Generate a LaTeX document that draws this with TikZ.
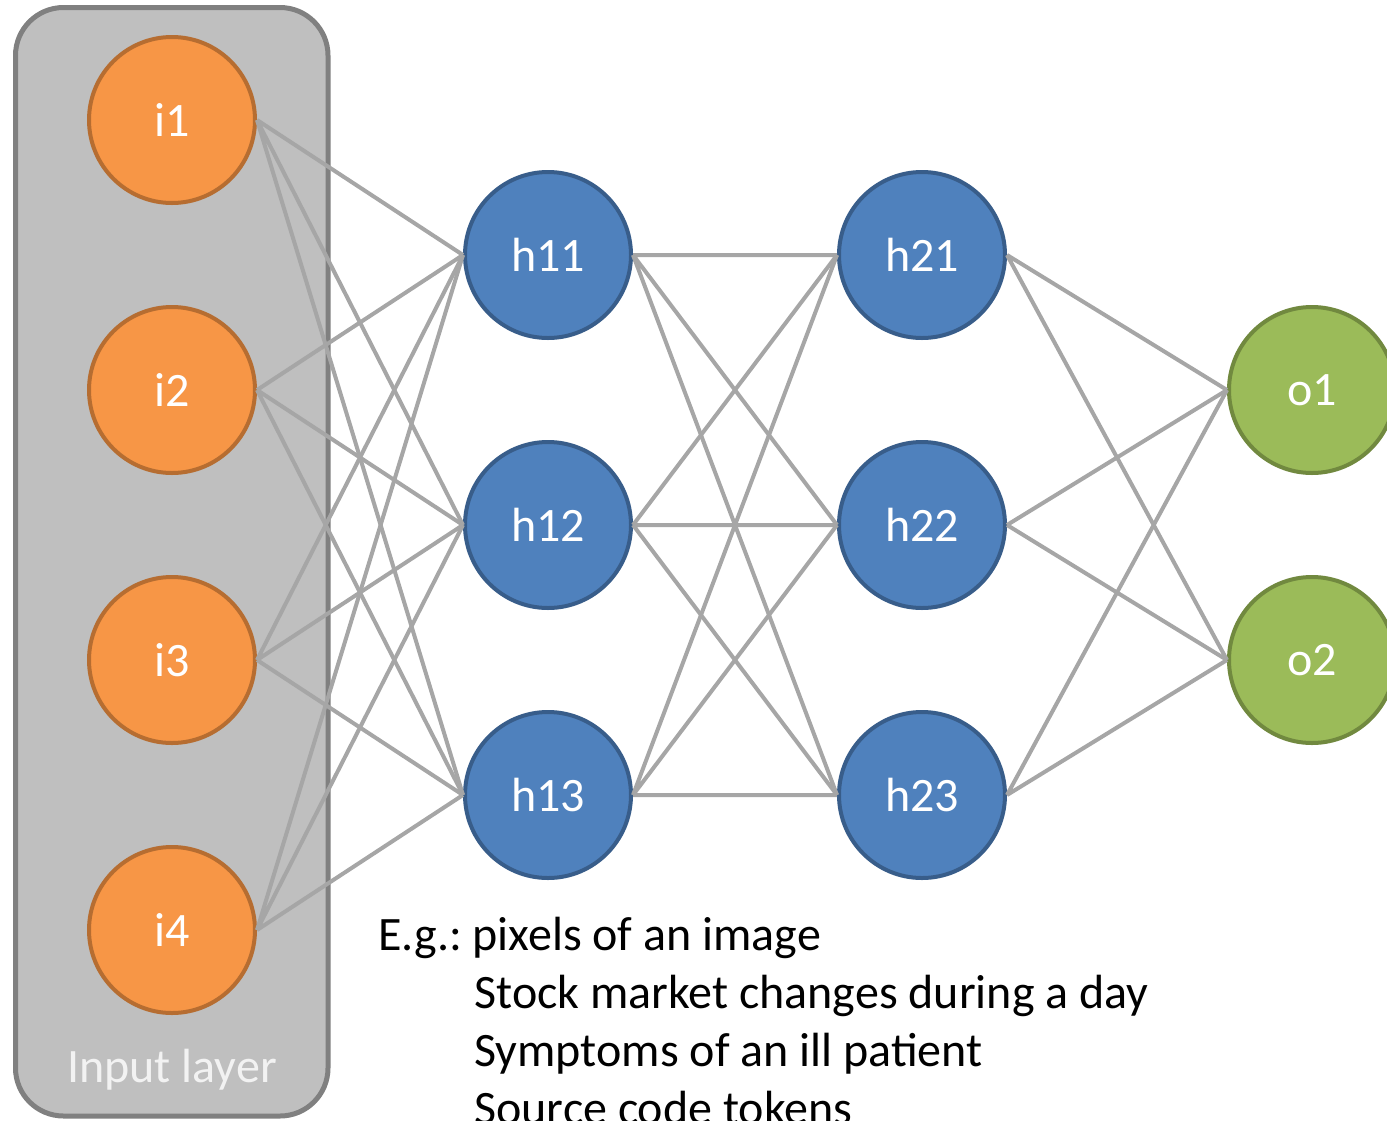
\documentclass[tikz,border=0pt]{standalone}
\usepackage{fontspec}
\setmainfont{Carlito}
\usepackage{xcolor}
\usepackage{tikz}
\usetikzlibrary{positioning}

\definecolor{inpfill}{HTML}{F79646}
\definecolor{inpline}{HTML}{B66D31}
\definecolor{hidfill}{HTML}{4F81BD}
\definecolor{hidline}{HTML}{385D8A}
\definecolor{outfill}{HTML}{9BBB59}
\definecolor{outline}{HTML}{71893F}
\definecolor{boxfill}{HTML}{BFBFBF}
\definecolor{boxline}{HTML}{808080}
\definecolor{linkgray}{HTML}{A6A6A6}

\begin{document}
\begin{tikzpicture}[
  x=0.5pt, y=-0.5pt,
  font=\fontsize{24pt}{29pt}\selectfont,
  node distance=50pt,
  neuron/.style={circle, draw, line width=2pt, minimum size=83pt,
                 inner sep=0pt, text=white},
  inp/.style={neuron, fill=inpfill, draw=inpline},
  hid/.style={neuron, fill=hidfill, draw=hidline},
  outp/.style={neuron, fill=outfill, draw=outline},
  inlayer/.style={draw=boxline, fill=boxfill, line width=2.5pt,
                  rounded corners=24pt},
  link/.style={draw=linkgray, line width=2pt},
  example/.style={anchor=base west, inner sep=0pt}
]
\useasboundingbox (0,0) rectangle (1387,1120);

% input layer box
\draw[inlayer] (15.5,7.5) rectangle (328,1116);
\node[anchor=base, text=white!95!black] (inlabel) at (172,1082) {Input layer};

% neurons
\node[inp] (i1) at (172,120) {i1};
\node[inp, below=of i1] (i2) {i2};
\node[inp, below=of i2] (i3) {i3};
\node[inp, below=of i3] (i4) {i4};

\node[hid] (h11) at (548,255) {h11};
\node[hid, below=of h11] (h12) {h12};
\node[hid, below=of h12] (h13) {h13};

\node[hid] (h21) at (922,255) {h21};
\node[hid, below=of h21] (h22) {h22};
\node[hid, below=of h22] (h23) {h23};

\node[outp] (o1) at (1312,390) {o1};
\node[outp, below=of o1] (o2) {o2};

% input -> first hidden layer
\draw[link] (i1.east) -- (h11.west) (i1.east) -- (h12.west) (i1.east) -- (h13.west);
\draw[link] (i2.east) -- (h11.west) (i2.east) -- (h12.west) (i2.east) -- (h13.west);
\draw[link] (i3.east) -- (h11.west) (i3.east) -- (h12.west) (i3.east) -- (h13.west);
\draw[link] (i4.east) -- (h11.west) (i4.east) -- (h12.west) (i4.east) -- (h13.west);

% first -> second hidden layer
\draw[link] (h11.east) -- (h21.west) (h11.east) -- (h22.west) (h11.east) -- (h23.west);
\draw[link] (h12.east) -- (h21.west) (h12.east) -- (h22.west) (h12.east) -- (h23.west);
\draw[link] (h13.east) -- (h21.west) (h13.east) -- (h22.west) (h13.east) -- (h23.west);

% second hidden -> output
\draw[link] (h21.east) -- (o1.west) (h21.east) -- (o2.west);
\draw[link] (h22.east) -- (o1.west) (h22.east) -- (o2.west);
\draw[link] (h23.east) -- (o1.west) (h23.east) -- (o2.west);

% examples of inputs
\node[example] (egpix) at (378,950) {E.g.:\hspace{-2pt} pixels of an image};
\node[example] (egstock) at (474,1008) {Stock market changes during a day};
\node[example] (egsympt) at (474,1066) {Symptoms of an ill patient};
\node[example] (egcode) at (474,1124) {Source code tokens};
\end{tikzpicture}
\end{document}
